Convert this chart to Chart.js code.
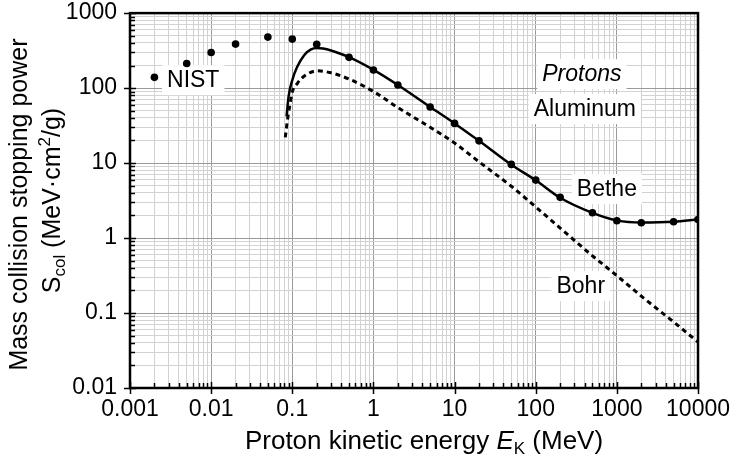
<!DOCTYPE html>
<html>
<head>
<meta charset="utf-8">
<script src="https://cdn.jsdelivr.net/npm/chart.js@4.4.1/dist/chart.umd.min.js"></script>
<style>
  html, body { margin: 0; padding: 0; background: #fff; }
  #wrap { width: 732px; height: 464px; }
</style>
</head>
<body>
<div id="wrap"><canvas id="chart" width="732" height="464"></canvas></div>
<script>
// NIST table: proton kinetic energy (MeV) and mass collision stopping power (MeV cm2/g)
const nistEnergy = [0.002, 0.005, 0.01, 0.02, 0.05, 0.1, 0.2, 0.5, 1, 2, 5, 10, 20, 50, 100, 200, 500, 1000, 2000, 5000, 10000];
const nistStopping = [139, 213, 299, 386, 479, 450, 383, 257, 174, 110, 56, 33.8, 19.8, 9.6, 5.93, 3.49, 2.17, 1.70, 1.60, 1.65, 1.77];

// Bethe curve
const betheEnergy = [0.085, 0.09, 0.1, 0.115, 0.14, 0.17, 0.2, 0.3, 0.5, 1, 2, 5, 10, 20, 50, 100, 200, 500, 1000, 2000, 5000, 10000];
const betheStopping = [42, 77, 128, 192, 275, 328, 342, 318, 258, 175, 110, 56, 33.8, 19.8, 9.5, 5.9, 3.45, 2.17, 1.72, 1.61, 1.65, 1.77];

// Bohr curve
const bohrEnergy = [0.082, 0.087, 0.094, 0.1, 0.115, 0.13, 0.16, 0.2, 0.3, 0.5, 1, 2, 5, 10, 20, 50, 100, 200, 500, 1000, 2000, 5000, 10000];
const bohrStopping = [22, 37, 62, 89, 115, 135, 158, 170, 160, 132, 90, 55, 30, 18.5, 10.4, 4.9, 2.6, 1.36, 0.58, 0.315, 0.168, 0.076, 0.041];

const xTickLabels = ['0.001', '0.01', '0.1', '1', '10', '100', '1000', '10000'];
const yTickLabels = ['0.01', '0.1', '1', '10', '100', '1000'];

// text placed inside the plot, in data coordinates
const notes = [
    { text: 'NIST', x: 0.00286, y: 103, align: 'left', italic: false },
    { text: 'Protons', x: 370, y: 124, align: 'center', italic: true },
    { text: 'Aluminum', x: 403, y: 42.4, align: 'center', italic: false },
    { text: 'Bethe', x: 753, y: 3.63, align: 'center', italic: false },
    { text: 'Bohr', x: 359, y: 0.185, align: 'center', italic: false }
];

const FONT = '"Liberation Sans", Arial, Helvetica, sans-serif';

const toPoints = (xs, ys) => xs.map((x, i) => ({ x: x, y: ys[i] }));

// all 1..9 x 10^n values between the first and last decade label
function logTicks(labels) {
    const decades = labels.map(Number);
    const out = [];
    decades.forEach((d, i) => {
        out.push(d);
        if (i < decades.length - 1) {
            for (let k = 2; k <= 9; k++) out.push(Number((d * k).toPrecision(6)));
        }
    });
    return out;
}

function decadeLabel(labels, value) {
    const hit = labels.find(l => Math.abs(Math.log10(Number(l)) - Math.log10(value)) < 1e-6);
    return hit === undefined ? '' : hit;
}

const frameAndTicks = {
    id: 'frameAndTicks',
    afterDraw(chart) {
        const { ctx, chartArea: a, scales } = chart;
        const x = scales.x, y = scales.y;
        ctx.save();
        ctx.strokeStyle = '#000';
        ctx.lineWidth = 1.5;
        x.ticks.forEach(t => {
            const px = Math.round(x.getPixelForValue(t.value)) + 0.5;
            const major = decadeLabel(xTickLabels, t.value) !== '';
            ctx.beginPath();
            ctx.moveTo(px, a.bottom + (major ? 6 : 0));
            ctx.lineTo(px, a.bottom - (major ? 6 : 5));
            ctx.stroke();
        });
        y.ticks.forEach(t => {
            const py = Math.round(y.getPixelForValue(t.value)) + 0.5;
            const major = decadeLabel(yTickLabels, t.value) !== '';
            ctx.beginPath();
            ctx.moveTo(a.left - (major ? 6 : 0), py);
            ctx.lineTo(a.left + (major ? 6 : 5), py);
            ctx.stroke();
        });
        ctx.lineWidth = 2.5;
        ctx.strokeRect(a.left, a.top, a.right - a.left, a.bottom - a.top);
        ctx.restore();
    }
};

const plotNotes = {
    id: 'plotNotes',
    afterDatasetsDraw(chart) {
        const { ctx, scales } = chart;
        ctx.save();
        notes.forEach(n => {
            ctx.font = (n.italic ? 'italic ' : '') + '23px ' + FONT;
            const w = ctx.measureText(n.text).width;
            const px = scales.x.getPixelForValue(n.x);
            const py = scales.y.getPixelForValue(n.y);
            const left = n.align === 'center' ? px - w / 2 : px;
            ctx.fillStyle = '#000';
            ctx.textAlign = 'left';
            ctx.textBaseline = 'alphabetic';
            ctx.fillText(n.text, left, py);
        });
        ctx.restore();
    },
    beforeDatasetsDraw(chart) {
        const { ctx, scales } = chart;
        ctx.save();
        notes.forEach(n => {
            ctx.font = (n.italic ? 'italic ' : '') + '23px ' + FONT;
            const w = ctx.measureText(n.text).width;
            const px = scales.x.getPixelForValue(n.x);
            const py = scales.y.getPixelForValue(n.y);
            const left = n.align === 'center' ? px - w / 2 : px;
            ctx.fillStyle = '#fff';
            ctx.fillRect(left - 5, py - 22, w + 10, 30);
        });
        ctx.restore();
    }
};

// axis titles carry sub- and superscripts, so they are set by hand
const axisTitles = {
    id: 'axisTitles',
    afterDraw(chart) {
        const { ctx, chartArea: a } = chart;
        const big = '25px ' + FONT;
        const small = '17px ' + FONT;
        ctx.save();
        ctx.fillStyle = '#000';
        ctx.textBaseline = 'alphabetic';
        ctx.textAlign = 'left';

        // x title
        const xParts = [
            { t: 'Proton kinetic energy ', f: '26px ' + FONT, dy: 0 },
            { t: 'E', f: 'italic 26px ' + FONT, dy: 0 },
            { t: 'K', f: '17px ' + FONT, dy: 5 },
            { t: ' (MeV)', f: '26px ' + FONT, dy: 0 }
        ];
        let total = 0;
        xParts.forEach(p => { ctx.font = p.f; p.w = ctx.measureText(p.t).width; total += p.w; });
        let cx = (a.left + a.right) / 2 + 10 - total / 2;
        xParts.forEach(p => { ctx.font = p.f; ctx.fillText(p.t, cx, 449 + p.dy); cx += p.w; });

        // y title, two lines, rotated
        const midY = (a.top + a.bottom) / 2 + 4;
        ctx.save();
        ctx.translate(27, midY);
        ctx.rotate(-Math.PI / 2);
        ctx.font = big;
        ctx.textAlign = 'center';
        ctx.fillText('Mass collision stopping power', 0, 0);
        ctx.restore();

        const yParts = [
            { t: 'S', f: big, dy: 0 },
            { t: 'col', f: small, dy: 5 },
            { t: ' (MeV\u00B7cm', f: big, dy: 0 },
            { t: '2', f: small, dy: -10 },
            { t: '/g)', f: big, dy: 0 }
        ];
        total = 0;
        yParts.forEach(p => { ctx.font = p.f; p.w = ctx.measureText(p.t).width; total += p.w; });
        ctx.save();
        ctx.translate(60, midY - 4);
        ctx.rotate(-Math.PI / 2);
        let cy = -total / 2;
        yParts.forEach(p => { ctx.font = p.f; ctx.fillText(p.t, cy, p.dy); cy += p.w; });
        ctx.restore();

        ctx.restore();
    }
};

const ctx = document.getElementById('chart');
new Chart(ctx, {
    type: 'scatter',
    data: {
        datasets: [
            {
                label: 'Bohr',
                data: toPoints(bohrEnergy, bohrStopping),
                showLine: true,
                borderColor: '#000',
                borderWidth: 3,
                borderDash: [5, 4],
                pointRadius: 0,
                cubicInterpolationMode: 'monotone'
            },
            {
                label: 'Bethe',
                data: toPoints(betheEnergy, betheStopping),
                showLine: true,
                borderColor: '#000',
                borderWidth: 2.5,
                pointRadius: 0,
                cubicInterpolationMode: 'monotone'
            },
            {
                label: 'NIST',
                data: toPoints(nistEnergy, nistStopping),
                showLine: false,
                backgroundColor: '#000',
                borderColor: '#000',
                pointRadius: 3.8,
                pointBorderWidth: 0
            }
        ]
    },
    options: {
        responsive: false,
        animation: false,
        layout: { padding: 0 },
        plugins: {
            legend: { display: false },
            tooltip: { enabled: false }
        },
        scales: {
            x: {
                type: 'logarithmic',
                min: 0.001,
                max: 10000,
                afterBuildTicks: s => { s.ticks = logTicks(xTickLabels).map(v => ({ value: v })); },
                afterFit: s => { s.height = 76; },
                ticks: {
                    autoSkip: false,
                    maxRotation: 0,
                    padding: 2,
                    color: '#000',
                    font: { family: FONT, size: 23, lineHeight: 1.7 },
                    callback: v => decadeLabel(xTickLabels, v)
                },
                grid: {
                    drawTicks: false,
                    color: c => (c.tick && decadeLabel(xTickLabels, c.tick.value) !== '') ? '#9a9a9a' : '#d2d2d2',
                    lineWidth: 1
                },
                border: { display: false }
            },
            y: {
                type: 'logarithmic',
                min: 0.01,
                max: 1000,
                afterBuildTicks: s => { s.ticks = logTicks(yTickLabels).map(v => ({ value: v })); },
                afterFit: s => { s.width = 130; },
                ticks: {
                    autoSkip: false,
                    padding: 13,
                    color: '#000',
                    font: { family: FONT, size: 23, lineHeight: 0.01 },
                    callback: v => decadeLabel(yTickLabels, v)
                },
                grid: {
                    drawTicks: false,
                    color: c => (c.tick && decadeLabel(yTickLabels, c.tick.value) !== '') ? '#9a9a9a' : '#d2d2d2',
                    lineWidth: 1
                },
                border: { display: false }
            }
        }
    },
    plugins: [plotNotes, frameAndTicks, axisTitles]
});
</script>
</body>
</html>
